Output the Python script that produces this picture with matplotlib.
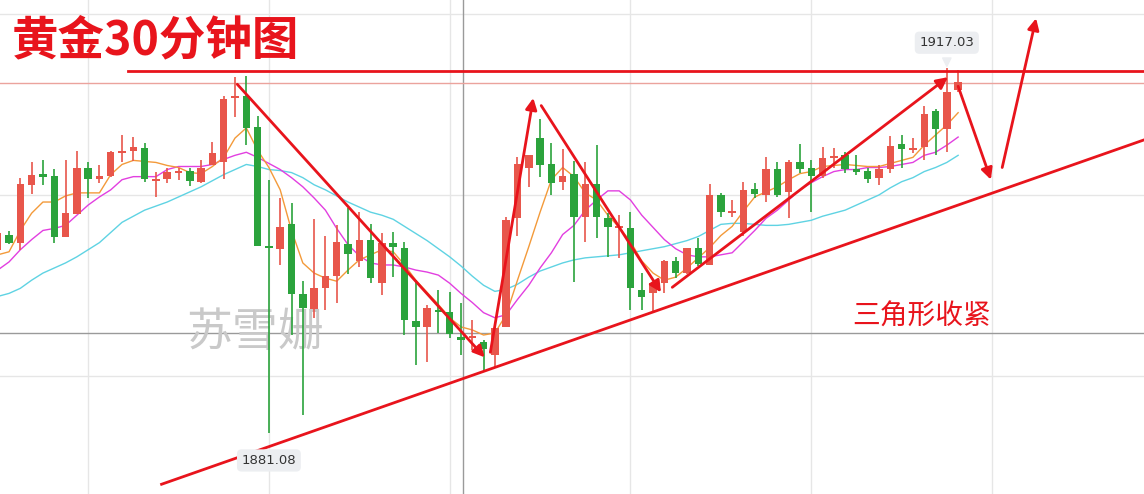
import numpy as np
import matplotlib
matplotlib.use("Agg")
import matplotlib.pyplot as plt

plt.rcParams['font.family'] = ['Noto Sans CJK SC', 'DejaVu Sans']

# 30-minute gold candles (index -1 is the half-visible bar at the left edge)
opens = [1899.1, 1900.6, 1899.8, 1905.5, 1906.6, 1906.4, 1900.4, 1902.6, 1907.2, 1906.1,
         1906.4, 1908.6, 1908.8, 1909.1, 1905.9, 1906.1, 1906.7, 1906.9, 1905.8, 1907.4,
         1907.7, 1914.0, 1914.2, 1911.2, 1899.5, 1899.2, 1901.6, 1894.7, 1893.3, 1895.3,
         1896.5, 1899.7, 1898.0, 1900.1, 1895.8, 1899.8, 1899.3, 1892.1, 1891.5, 1893.2,
         1893.0, 1890.5, 1890.4, 1890.0, 1888.7, 1891.5, 1902.2, 1907.2, 1910.1, 1907.5,
         1905.8, 1906.6, 1902.3, 1905.6, 1902.2, 1901.2, 1901.2, 1895.1, 1894.8, 1895.8,
         1898.0, 1896.8, 1899.3, 1897.6, 1904.5, 1902.7, 1900.8, 1905.1, 1904.5, 1907.1,
         1904.8, 1907.7, 1907.2, 1906.4, 1908.1, 1908.4, 1907.1, 1906.9, 1906.2, 1907.1,
         1909.5, 1908.9, 1909.2, 1912.8, 1911.0, 1914.8]
highs = [1901.2, 1900.9, 1906.2, 1907.7, 1907.9, 1907.1, 1907.9, 1908.8, 1907.7, 1907.4,
         1908.8, 1910.4, 1910.2, 1909.6, 1906.8, 1907.2, 1907.2, 1907.2, 1907.9, 1909.7,
         1914.2, 1916.1, 1916.2, 1912.3, 1906.0, 1904.2, 1903.7, 1896.0, 1902.1, 1900.5,
         1901.5, 1903.2, 1902.8, 1901.6, 1900.7, 1900.8, 1899.9, 1896.1, 1893.7, 1895.1,
         1894.9, 1893.9, 1892.2, 1890.2, 1891.5, 1902.3, 1908.2, 1908.4, 1912.0, 1909.6,
         1909.0, 1907.8, 1907.7, 1909.4, 1902.7, 1902.5, 1902.8, 1896.8, 1895.8, 1898.1,
         1898.4, 1899.3, 1900.3, 1905.6, 1904.7, 1904.0, 1905.8, 1905.7, 1908.2, 1907.7,
         1907.9, 1909.5, 1907.9, 1909.2, 1909.1, 1908.7, 1908.4, 1907.2, 1907.4, 1910.3,
         1910.4, 1910.1, 1913.3, 1913.0, 1917.03, 1916.8]
lows = [1898.6, 1899.7, 1899.1, 1904.6, 1905.5, 1899.8, 1900.4, 1902.6, 1904.2, 1905.7,
        1906.3, 1907.7, 1907.8, 1905.8, 1904.3, 1905.7, 1906.0, 1905.4, 1905.7, 1907.4,
        1906.1, 1912.2, 1909.4, 1899.5, 1881.08, 1897.6, 1890.7, 1882.8, 1892.4, 1893.2,
        1893.9, 1896.7, 1897.4, 1895.8, 1894.6, 1896.4, 1890.7, 1887.7, 1888.0, 1890.9,
        1890.4, 1888.7, 1889.2, 1887.1, 1887.5, 1891.5, 1900.5, 1905.3, 1906.3, 1904.5,
        1905.0, 1895.9, 1899.9, 1900.3, 1898.4, 1898.3, 1893.2, 1893.2, 1893.0, 1894.8,
        1896.3, 1896.7, 1897.5, 1897.6, 1902.3, 1902.3, 1900.5, 1904.2, 1903.8, 1904.3,
        1902.2, 1906.7, 1902.8, 1906.2, 1907.2, 1906.7, 1906.5, 1905.7, 1905.5, 1906.7,
        1907.2, 1908.6, 1907.9, 1908.4, 1908.7, 1914.6]
closes = [1900.7, 1899.8, 1905.6, 1906.5, 1906.3, 1900.4, 1902.7, 1907.2, 1906.1, 1906.4,
          1908.7, 1908.8, 1909.2, 1906.1, 1906.1, 1906.8, 1906.9, 1905.9, 1907.2, 1908.6,
          1913.9, 1914.2, 1911.1, 1899.5, 1899.3, 1901.3, 1894.7, 1893.4, 1895.3, 1896.5,
          1899.9, 1898.7, 1900.1, 1896.3, 1899.8, 1899.4, 1892.2, 1891.5, 1893.4, 1893.0,
          1890.8, 1890.2, 1890.6, 1889.3, 1891.4, 1902.0, 1907.5, 1908.4, 1907.4, 1905.7,
          1906.4, 1902.3, 1905.6, 1902.3, 1901.3, 1901.4, 1895.3, 1894.4, 1895.8, 1898.0,
          1896.8, 1899.3, 1897.7, 1904.5, 1902.8, 1902.8, 1905.0, 1904.6, 1907.1, 1904.5,
          1907.7, 1907.1, 1906.4, 1908.1, 1908.3, 1907.1, 1906.8, 1906.1, 1907.1, 1909.3,
          1909.0, 1909.1, 1912.5, 1911.0, 1914.6, 1915.6]

# moving average lines
ma_fast = [1898.6, 1898.9, 1901.0, 1902.7, 1903.8, 1903.8, 1904.4, 1904.7, 1904.7, 1904.7,
           1906.5, 1907.5, 1907.9, 1907.8, 1907.7, 1907.4, 1907.2, 1906.7, 1906.6, 1907.3,
           1908.2, 1910.1, 1911.1, 1908.9, 1907.2, 1905.0, 1901.0, 1897.8, 1896.8, 1896.3,
           1896.0, 1897.1, 1898.1, 1898.6, 1899.1, 1898.9, 1897.6, 1896.1, 1894.9, 1893.7,
           1892.4, 1891.5, 1891.2, 1890.7, 1890.9, 1892.7, 1896.1, 1899.4, 1902.8, 1906.0,
           1907.2, 1906.3, 1904.7, 1904.0, 1902.5, 1901.3, 1899.9, 1898.0, 1896.8, 1896.1,
           1896.4, 1897.3, 1898.3, 1899.3, 1900.5, 1901.4, 1902.9, 1904.3, 1904.8, 1905.3,
           1906.0, 1906.6, 1906.8, 1907.3, 1907.4, 1907.5, 1907.4, 1907.3, 1907.3, 1907.6,
           1907.9, 1908.2, 1909.4, 1910.4, 1911.4, 1912.6]
ma_mid = [1897.1, 1897.9, 1899.1, 1900.1, 1901.0, 1901.2, 1901.5, 1902.5, 1903.5, 1904.3,
          1905.0, 1906.0, 1906.3, 1906.3, 1906.3, 1907.0, 1907.3, 1907.3, 1907.3, 1907.5,
          1908.0, 1908.4, 1908.7, 1908.2, 1907.6, 1907.0, 1906.2, 1905.3, 1904.2, 1903.0,
          1901.2, 1899.6, 1898.5, 1897.8, 1897.6, 1897.6, 1897.4, 1897.1, 1896.9, 1896.6,
          1895.8, 1894.8, 1893.9, 1892.9, 1892.4, 1892.7, 1894.2, 1895.6, 1897.3, 1898.8,
          1900.6, 1901.5, 1903.0, 1904.0, 1904.9, 1904.9, 1904.0, 1902.5, 1901.3, 1900.1,
          1899.2, 1898.6, 1898.4, 1898.4, 1898.6, 1898.8, 1899.9, 1901.0, 1902.2, 1903.0,
          1904.0, 1905.0, 1905.7, 1906.3, 1906.8, 1907.0, 1907.0, 1907.2, 1907.2, 1907.3,
          1907.5, 1907.7, 1908.4, 1908.7, 1909.4, 1910.2]
ma_slow = [1894.5, 1894.8, 1895.3, 1896.1, 1896.8, 1897.3, 1897.8, 1898.4, 1899.1, 1899.8,
           1900.8, 1901.8, 1902.4, 1903.0, 1903.4, 1903.8, 1904.3, 1904.8, 1905.3, 1905.9,
           1906.5, 1907.0, 1907.5, 1907.3, 1907.0, 1906.9, 1906.7, 1906.2, 1905.5, 1905.0,
           1904.4, 1903.8, 1903.3, 1902.8, 1902.5, 1902.1, 1901.4, 1900.7, 1900.0, 1899.2,
           1898.4, 1897.5, 1896.5, 1895.6, 1895.0, 1895.2, 1895.7, 1896.4, 1897.0, 1897.4,
           1897.8, 1898.1, 1898.3, 1898.4, 1898.5, 1898.6, 1898.8, 1899.0, 1899.2, 1899.4,
           1899.7, 1900.0, 1900.4, 1901.0, 1901.6, 1901.7, 1901.7, 1901.6, 1901.5, 1901.5,
           1901.6, 1901.8, 1902.0, 1902.4, 1902.7, 1903.0, 1903.5, 1904.0, 1904.5, 1905.2,
           1905.8, 1906.2, 1906.8, 1907.2, 1907.7, 1908.4]

# hand-drawn analysis lines: (start index, start price, end index, end price)
arrows = [(20.2, 1915.4, 42.1, 1888.5),
          (42.6, 1889.0, 46.4, 1914.05),
          (47.1, 1913.3, 57.7, 1894.9),
          (58.7, 1895.4, 83.1, 1916.1),
          (84.0, 1915.2, 86.9, 1906.0),
          (87.9, 1907.2, 90.9, 1921.9)]
support = (13.5, 1876.0, 100.4, 1909.9)
resistance = 1916.7
last_price = 1915.5

x = np.arange(-1, len(opens) - 1)
o, h, l, c = map(np.array, (opens, highs, lows, closes))

RED = '#e8564b'
GREEN = '#2ba33c'
LINE_RED = '#e8141c'

fig = plt.figure(figsize=(11.44, 4.94), dpi=100)
ax = fig.add_axes([0, 0, 1, 1])
ax.set_xlim(-0.8, 100.45)
ax.set_ylim(1875.04, 1923.70)
ax.axis('off')

# grid + crosshair
for gx in [7, 23, 39, 55, 71, 87]:
    ax.axvline(gx, color='#e6e6e6', lw=1, zorder=0)
for gy in [1922.3, 1904.5, 1886.7]:
    ax.axhline(gy, color='#e6e6e6', lw=1, zorder=0)
ax.axvline(40.15, color='#9a9a9a', lw=1, zorder=0)
ax.axhline(1890.9, color='#9a9a9a', lw=1, zorder=0)

# watermark
ax.text(0.223, 0.326, '苏雪姗', transform=ax.transAxes, fontsize=33,
        color='#c9c9c9', ha='center', va='center', zorder=0.5)

# moving averages
ax.plot(x, ma_slow, color='#5fd3e3', lw=1, zorder=1)
ax.plot(x, ma_mid, color='#e23fe0', lw=1, zorder=1)
ax.plot(x, ma_fast, color='#f39a3a', lw=1, zorder=1)

# candles
up = c >= o
colors = np.where(up, RED, GREEN)
ax.vlines(x, l, h, colors=colors, lw=1.2, zorder=2)
body = np.maximum(np.abs(c - o), 0.18)
ax.bar(x, body, bottom=np.minimum(o, c), width=0.66, color=colors, zorder=3)

# price lines
ax.axhline(last_price, color='#eba39d', lw=1, zorder=1)
ax.plot([10.5, 100.5], [resistance, resistance], color=LINE_RED, lw=2, zorder=4)

# analysis arrows
for x0, y0, x1, y1 in arrows:
    ax.annotate('', xy=(x1, y1), xytext=(x0, y0),
                arrowprops=dict(arrowstyle='-|>', color=LINE_RED, lw=2,
                                mutation_scale=17, shrinkA=0, shrinkB=0),
                zorder=5)
ax.plot([support[0], support[2]], [support[1], support[3]], color=LINE_RED, lw=2, zorder=4)

# high / low tags with small pointers
tag = dict(boxstyle='round,pad=0.35', fc='#eceef1', ec='none')
ax.annotate('1917.03', xy=(83, 1917.03), xytext=(0, 18), textcoords='offset points',
            ha='center', va='center', fontsize=9.5, color='#333333', bbox=tag,
            family='DejaVu Sans', zorder=6)
ax.annotate('', xy=(83, 1917.03), xytext=(0, 7), textcoords='offset points',
            arrowprops=dict(arrowstyle='wedge,tail_width=0.6', color='#eceef1',
                            shrinkA=0, shrinkB=1), zorder=6)
ax.annotate('1881.08', xy=(23, 1881.08), xytext=(0, -20), textcoords='offset points',
            ha='center', va='center', fontsize=9.5, color='#333333', bbox=tag,
            family='DejaVu Sans', zorder=6)

# titles
ax.text(0.010, 0.918, '黄金30分钟图', transform=ax.transAxes, fontsize=33.5,
        color=LINE_RED, fontweight='bold', ha='left', va='center')
ax.text(0.806, 0.358, '三角形收紧', transform=ax.transAxes, fontsize=20,
        color=LINE_RED, ha='center', va='center')

fig.savefig('out.png', dpi=100)
